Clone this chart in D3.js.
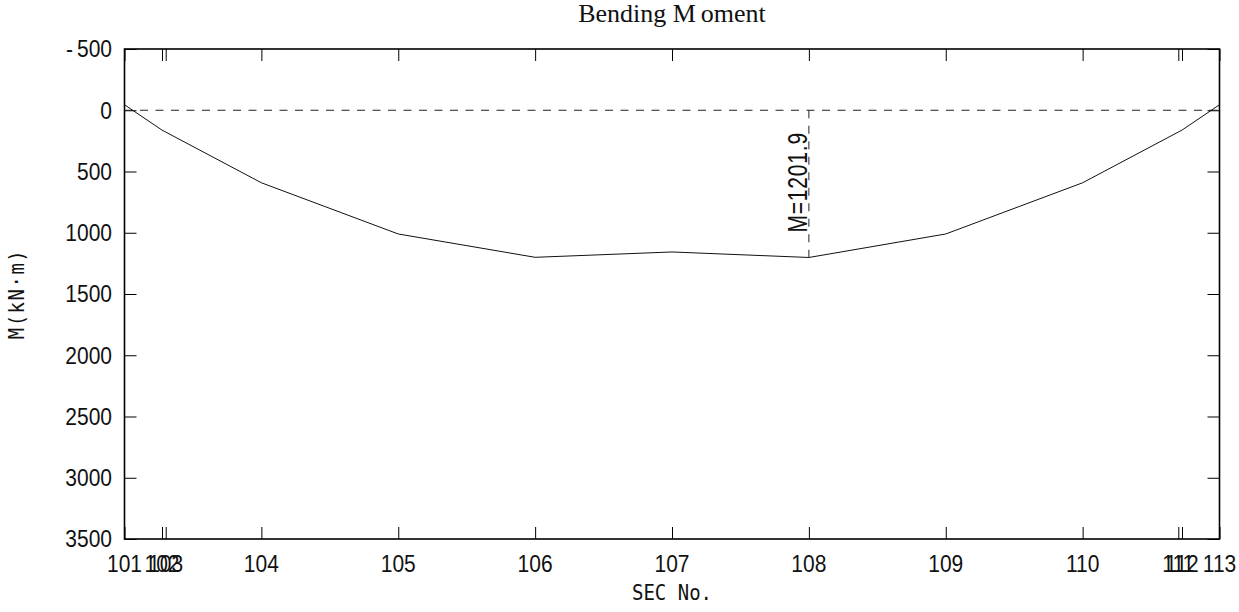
<!DOCTYPE html>
<html>
<head>
<meta charset="utf-8">
<script src="https://cdn.jsdelivr.net/npm/d3@7"></script>
<style>
  body { margin: 0; background: #fff; }
  svg { display: block; }
</style>
</head>
<body>
<div id="chart"></div>
<script>
// section numbers, their position along the member, bending moment (kN·m)
var sections = ["101", "102", "103", "104", "105", "106", "107", "108", "109", "110", "111", "112", "113"];
var sectionPos = [0, 0.274, 0.301, 1, 2, 3, 4, 5, 6, 7, 7.699, 7.726, 8];
var moments = [-45, 162, 178, 592, 1010, 1200.5, 1157, 1201.9, 1010, 592, 178, 162, -45];
var yTicks = [-500, 0, 500, 1000, 1500, 2000, 2500, 3000, 3500];
var maxIndex = 7;

var width = 1239;
var height = 612;
var plotLeft = 124.5, plotRight = 1219.5, plotTop = 49, plotBottom = 539;

var svg = d3.select("#chart")
    .append("svg")
    .attr("width", width)
    .attr("height", height);

svg.append("rect")
    .attr("width", width)
    .attr("height", height)
    .attr("fill", "#fff");

var x = d3.scaleLinear()
    .domain([0, 8])
    .range([plotLeft, plotRight]);
var y = d3.scaleLinear()
    .domain([-500, 3500])
    .range([plotTop, plotBottom]);

// tick marks, all pointing into the plot
svg.append("g")
    .attr("transform", "translate(" + plotLeft + ",0)")
    .call(d3.axisLeft(y).tickValues(yTicks).tickSize(-12).tickFormat(""));
svg.append("g")
    .attr("transform", "translate(" + plotRight + ",0)")
    .call(d3.axisRight(y).tickValues(yTicks).tickSize(-12).tickFormat(""));
svg.append("g")
    .attr("transform", "translate(0," + plotBottom + ")")
    .call(d3.axisBottom(x).tickValues(sectionPos).tickSize(-12).tickFormat(""));
svg.append("g")
    .attr("transform", "translate(0," + plotTop + ")")
    .call(d3.axisTop(x).tickValues(sectionPos).tickSize(-12).tickFormat(""));
svg.selectAll(".domain").remove();
svg.selectAll(".tick line").attr("stroke", "#000").attr("stroke-width", 1);

// frame
svg.append("rect")
    .attr("x", plotLeft)
    .attr("y", plotTop)
    .attr("width", plotRight - plotLeft)
    .attr("height", plotBottom - plotTop)
    .attr("fill", "none")
    .attr("stroke", "#000")
    .attr("stroke-width", 1.6);

// tick labels
var yLabels = svg.append("g")
    .selectAll("text")
    .data(yTicks)
    .enter()
    .append("text")
    .attr("transform", function(d) { return "translate(112," + (y(d) + 8.3) + ") scale(1,1.12)"; })
    .attr("text-anchor", "end")
    .attr("font-family", "'Liberation Sans', Arial, sans-serif")
    .attr("font-size", 21)
    .attr("fill", "#111");
yLabels.each(function(d) {
    var t = d3.select(this);
    if (d < 0) {
        t.append("tspan").text("-");
        t.append("tspan").attr("dx", 4).text(Math.abs(d));
    } else {
        t.text(d);
    }
});

svg.append("g")
    .selectAll("text")
    .data(d3.range(sections.length))
    .enter()
    .append("text")
    .attr("transform", function(d) { return "translate(" + x(sectionPos[d]) + ",572) scale(1,1.12)"; })
    .attr("text-anchor", "middle")
    .attr("font-family", "'Liberation Sans', Arial, sans-serif")
    .attr("font-size", 21)
    .attr("fill", "#111")
    .text(function(d) { return sections[d]; });

// zero line
svg.append("line")
    .attr("x1", plotLeft)
    .attr("x2", plotRight)
    .attr("y1", y(0))
    .attr("y2", y(0))
    .attr("stroke", "#222")
    .attr("stroke-width", 1)
    .attr("stroke-dasharray", "8,7.5");

// moment line
var line = d3.line()
    .x(function(d) { return x(sectionPos[d]); })
    .y(function(d) { return y(moments[d]); });

svg.append("path")
    .datum(d3.range(sections.length))
    .attr("d", line)
    .attr("fill", "none")
    .attr("stroke", "#111")
    .attr("stroke-width", 1);

// max moment marker
svg.append("line")
    .attr("x1", x(sectionPos[maxIndex]))
    .attr("x2", x(sectionPos[maxIndex]))
    .attr("y1", y(0))
    .attr("y2", y(moments[maxIndex]))
    .attr("stroke", "#222")
    .attr("stroke-width", 1)
    .attr("stroke-dasharray", "8,7.5");

svg.append("text")
    .attr("transform", "translate(" + (x(sectionPos[maxIndex]) - 1.5) + "," + (y(moments[maxIndex]) - 25) + ") rotate(-90) scale(1,1.3)")
    .attr("font-family", "'Liberation Sans', Arial, sans-serif")
    .attr("font-size", 21)
    .attr("letter-spacing", 0.8)
    .attr("fill", "#111")
    .text("M=" + moments[maxIndex]);

// titles
var title = svg.append("text")
    .attr("x", (plotLeft + plotRight) / 2)
    .attr("y", 22)
    .attr("text-anchor", "middle")
    .attr("font-family", "'Liberation Serif', 'Times New Roman', serif")
    .attr("font-size", 26)
    .attr("fill", "#111");
title.append("tspan").text("Bending M");
title.append("tspan").attr("dx", 5).text("oment");

svg.append("text")
    .attr("transform", "translate(" + (plotLeft + plotRight) / 2 + ",600) scale(1,1.12)")
    .attr("text-anchor", "middle")
    .attr("font-family", "'DejaVu Sans Mono', monospace")
    .attr("font-size", 19)
    .attr("fill", "#111")
    .text("SEC No.");

svg.append("text")
    .attr("transform", "translate(24," + (plotTop + plotBottom) / 2 + ") rotate(-90) scale(1,1.1)")
    .attr("text-anchor", "middle")
    .attr("font-family", "'DejaVu Sans Mono', monospace")
    .attr("font-size", 19)
    .attr("letter-spacing", 1.5)
    .attr("fill", "#111")
    .text("M(kN·m)");
</script>
</body>
</html>
